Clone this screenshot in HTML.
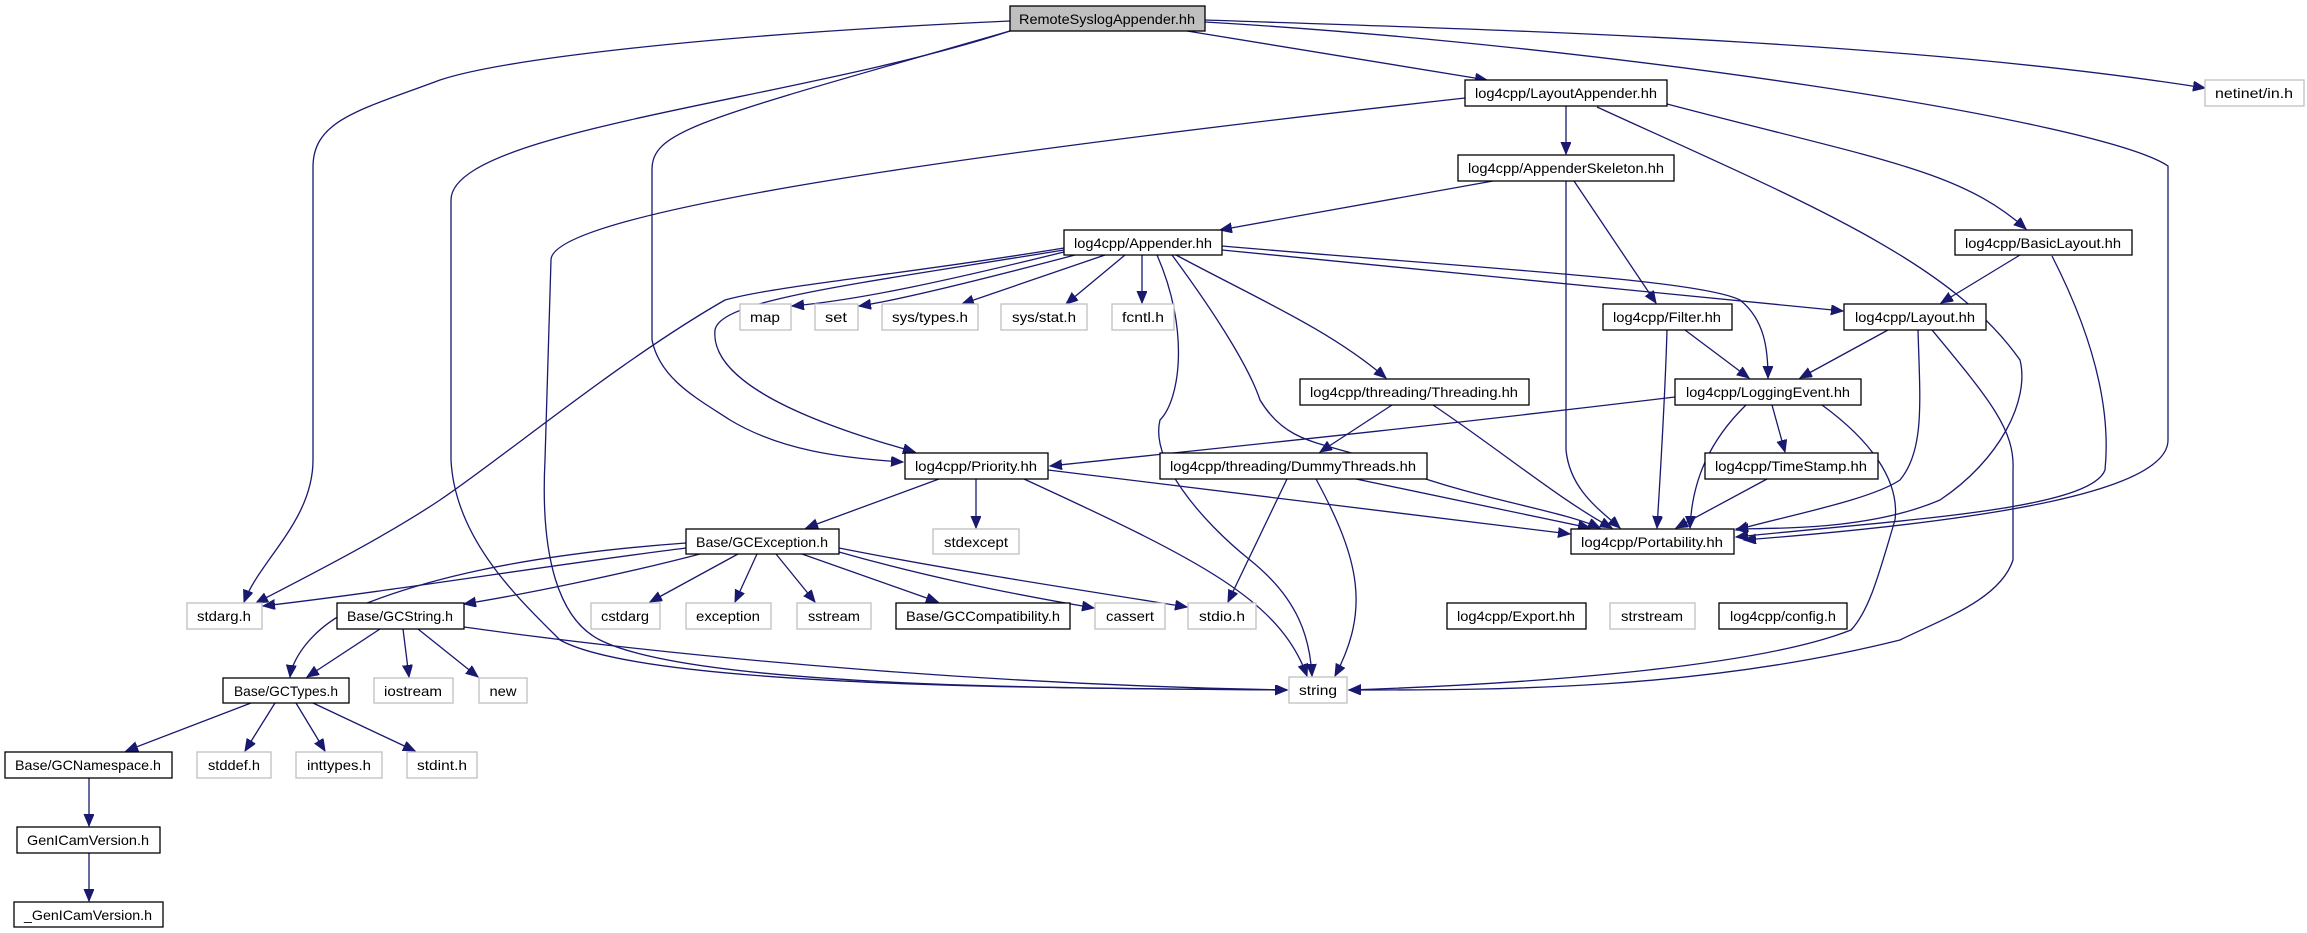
<!DOCTYPE html>
<html><head><meta charset="utf-8"><style>
html,body{margin:0;padding:0;background:#fff;}
svg{display:block;}
text{font-family:"Liberation Sans",sans-serif;font-size:14px;fill:#000;}
.e{fill:none;stroke:#191970;stroke-width:1.3;marker-end:url(#a);}
.nb{fill:#fff;stroke:#000;stroke-width:1.3;}
.ng{fill:#fff;stroke:#bfbfbf;stroke-width:1.3;}
.nr{fill:#bfbfbf;stroke:#000;stroke-width:1.3;}
</style></head><body>
<svg width="2307" height="933" viewBox="0 0 2307 933" xmlns="http://www.w3.org/2000/svg">
<defs><marker id="a" markerUnits="userSpaceOnUse" markerWidth="14" markerHeight="12" refX="12" refY="5" orient="auto"><path d="M0,0 L12,5 L0,10 Z" fill="#191970" stroke="#191970"/></marker></defs>
<g>
<path class="e" d="M1187,31 L1487,80"/>
<path class="e" d="M1205,20 C1500,30 1900,40 2205,88"/>
<path class="e" d="M1205,22 C1600,45 2100,120 2168,166 L2168,440 C2168,490 2000,520 1744,540"/>
<path class="e" d="M1010,21 C700,35 500,60 440,80 C360,110 313,120 313,167 L313,460 C313,520 260,560 244,602"/>
<path class="e" d="M1010,31 C800,100 451,130 451,200 L451,460 C455,540 520,600 560,640 C650,690 1100,688 1287,690"/>
<path class="e" d="M1010,31 C700,120 652,130 652,170 L652,340 C660,380 700,400 730,420 C780,450 840,458 903,462"/>
<path class="e" d="M1566,106 L1566,154"/>
<path class="e" d="M1667,104 C1880,160 1960,170 2026,229"/>
<path class="e" d="M1597,107 C1800,200 1950,260 2020,360 C2030,400 2000,460 1940,500 C1870,530 1780,528 1736,529"/>
<path class="e" d="M1465,98 C1000,150 551,210 551,260 L545,460 C540,560 560,620 600,640 C700,690 1100,688 1287,690"/>
<path class="e" d="M1493,181 L1220,230"/>
<path class="e" d="M1574,181 L1656,303"/>
<path class="e" d="M1566,181 L1566,450 C1570,490 1600,510 1620,528"/>
<path class="e" d="M2020,255 L1941,303"/>
<path class="e" d="M2052,256 C2100,350 2110,420 2105,470 C2090,510 1900,520 1736,537"/>
<path class="e" d="M1064,252 C950,280 860,300 792,306"/>
<path class="e" d="M1075,255 C980,280 900,300 859,306"/>
<path class="e" d="M1105,255 L962,304"/>
<path class="e" d="M1125,255 L1066,304"/>
<path class="e" d="M1142,255 L1142,303"/>
<path class="e" d="M1064,248 C900,275 780,285 725,300 C620,360 500,460 440,500 C380,540 300,580 256,603"/>
<path class="e" d="M1064,250 C850,285 720,300 715,330 C710,380 800,420 915,452"/>
<path class="e" d="M1176,255 C1260,300 1330,330 1386,378"/>
<path class="e" d="M1222,250 L1843,311"/>
<path class="e" d="M1222,246 C1500,270 1700,280 1740,300 C1765,320 1768,350 1768,378"/>
<path class="e" d="M1172,255 C1220,320 1250,370 1260,400 C1290,450 1330,440 1400,470 C1480,500 1560,510 1600,528"/>
<path class="e" d="M1157,255 C1190,330 1180,400 1160,420 C1150,460 1200,520 1250,560 C1300,600 1310,640 1312,676"/>
<path class="e" d="M1685,330 L1749,378"/>
<path class="e" d="M1667,330 C1665,400 1660,480 1657,528"/>
<path class="e" d="M1888,330 L1800,378"/>
<path class="e" d="M1918,330 C1920,400 1925,450 1900,480 C1870,500 1790,515 1736,530"/>
<path class="e" d="M1932,330 C1990,400 2015,430 2013,470 L2013,560 C2000,600 1940,620 1900,640 C1700,690 1500,690 1349,690"/>
<path class="e" d="M1675,397 C1400,430 1200,450 1050,466"/>
<path class="e" d="M1772,405 L1785,452"/>
<path class="e" d="M1746,405 C1710,440 1692,480 1690,528"/>
<path class="e" d="M1822,405 C1870,440 1900,480 1895,520 C1880,570 1870,610 1851,630 C1750,670 1500,685 1349,690"/>
<path class="e" d="M1767,479 L1676,528"/>
<path class="e" d="M1392,405 L1320,452"/>
<path class="e" d="M1433,405 C1500,450 1560,500 1612,528"/>
<path class="e" d="M1356,479 L1590,528"/>
<path class="e" d="M1287,479 L1228,602"/>
<path class="e" d="M1316,479 C1360,560 1370,610 1335,676"/>
<path class="e" d="M939,479 L806,528"/>
<path class="e" d="M976,479 L976,528"/>
<path class="e" d="M1048,470 L1570,534"/>
<path class="e" d="M1024,479 C1200,560 1280,600 1307,676"/>
<path class="e" d="M686,548 C550,565 400,590 263,606"/>
<path class="e" d="M686,543 C520,555 420,580 350,610 C310,630 292,660 290,677"/>
<path class="e" d="M700,554 C620,575 520,595 464,604"/>
<path class="e" d="M738,554 L650,602"/>
<path class="e" d="M757,554 L735,602"/>
<path class="e" d="M776,554 L815,602"/>
<path class="e" d="M802,554 L938,602"/>
<path class="e" d="M839,552 C920,575 1000,592 1094,608"/>
<path class="e" d="M839,548 C950,570 1080,590 1187,607"/>
<path class="e" d="M380,629 L307,677"/>
<path class="e" d="M403,629 L409,677"/>
<path class="e" d="M418,629 L478,677"/>
<path class="e" d="M464,627 C700,660 1000,685 1287,690"/>
<path class="e" d="M251,703 L126,751"/>
<path class="e" d="M275,703 L245,751"/>
<path class="e" d="M296,703 L325,751"/>
<path class="e" d="M313,703 L415,751"/>
<path class="e" d="M89,778 L89,826"/>
<path class="e" d="M89,853 L89,901"/>
</g>
<g>
<rect class="nr" x="1010" y="6" width="195" height="25"/><text x="1107" y="24" text-anchor="middle" textLength="176" lengthAdjust="spacingAndGlyphs">RemoteSyslogAppender.hh</text>
<rect class="nb" x="1465" y="80" width="202" height="26"/><text x="1566" y="98" text-anchor="middle" textLength="182" lengthAdjust="spacingAndGlyphs">log4cpp/LayoutAppender.hh</text>
<rect class="ng" x="2205" y="80" width="99" height="26"/><text x="2254" y="98" text-anchor="middle" textLength="78" lengthAdjust="spacingAndGlyphs">netinet/in.h</text>
<rect class="nb" x="1458" y="155" width="216" height="26"/><text x="1566" y="173" text-anchor="middle" textLength="196" lengthAdjust="spacingAndGlyphs">log4cpp/AppenderSkeleton.hh</text>
<rect class="nb" x="1955" y="230" width="177" height="25"/><text x="2043" y="248" text-anchor="middle" textLength="156" lengthAdjust="spacingAndGlyphs">log4cpp/BasicLayout.hh</text>
<rect class="nb" x="1064" y="230" width="158" height="25"/><text x="1143" y="248" text-anchor="middle" textLength="138" lengthAdjust="spacingAndGlyphs">log4cpp/Appender.hh</text>
<rect class="ng" x="740" y="304" width="51" height="26"/><text x="765" y="322" text-anchor="middle" textLength="30" lengthAdjust="spacingAndGlyphs">map</text>
<rect class="ng" x="815" y="304" width="43" height="26"/><text x="836" y="322" text-anchor="middle" textLength="22" lengthAdjust="spacingAndGlyphs">set</text>
<rect class="ng" x="882" y="304" width="96" height="26"/><text x="930" y="322" text-anchor="middle" textLength="76" lengthAdjust="spacingAndGlyphs">sys/types.h</text>
<rect class="ng" x="1001" y="304" width="86" height="26"/><text x="1044" y="322" text-anchor="middle" textLength="64" lengthAdjust="spacingAndGlyphs">sys/stat.h</text>
<rect class="ng" x="1112" y="304" width="62" height="26"/><text x="1143" y="322" text-anchor="middle" textLength="42" lengthAdjust="spacingAndGlyphs">fcntl.h</text>
<rect class="nb" x="1603" y="304" width="129" height="26"/><text x="1667" y="322" text-anchor="middle" textLength="108" lengthAdjust="spacingAndGlyphs">log4cpp/Filter.hh</text>
<rect class="nb" x="1844" y="304" width="142" height="26"/><text x="1915" y="322" text-anchor="middle" textLength="120" lengthAdjust="spacingAndGlyphs">log4cpp/Layout.hh</text>
<rect class="nb" x="1300" y="379" width="229" height="26"/><text x="1414" y="397" text-anchor="middle" textLength="208" lengthAdjust="spacingAndGlyphs">log4cpp/threading/Threading.hh</text>
<rect class="nb" x="1675" y="379" width="186" height="26"/><text x="1768" y="397" text-anchor="middle" textLength="164" lengthAdjust="spacingAndGlyphs">log4cpp/LoggingEvent.hh</text>
<rect class="nb" x="905" y="453" width="143" height="26"/><text x="976" y="471" text-anchor="middle" textLength="122" lengthAdjust="spacingAndGlyphs">log4cpp/Priority.hh</text>
<rect class="nb" x="1160" y="453" width="267" height="26"/><text x="1293" y="471" text-anchor="middle" textLength="246" lengthAdjust="spacingAndGlyphs">log4cpp/threading/DummyThreads.hh</text>
<rect class="nb" x="1705" y="453" width="173" height="26"/><text x="1791" y="471" text-anchor="middle" textLength="152" lengthAdjust="spacingAndGlyphs">log4cpp/TimeStamp.hh</text>
<rect class="nb" x="1571" y="529" width="163" height="25"/><text x="1652" y="547" text-anchor="middle" textLength="142" lengthAdjust="spacingAndGlyphs">log4cpp/Portability.hh</text>
<rect class="nb" x="686" y="529" width="153" height="25"/><text x="762" y="547" text-anchor="middle" textLength="132" lengthAdjust="spacingAndGlyphs">Base/GCException.h</text>
<rect class="ng" x="933" y="529" width="86" height="25"/><text x="976" y="547" text-anchor="middle" textLength="64" lengthAdjust="spacingAndGlyphs">stdexcept</text>
<rect class="ng" x="187" y="603" width="75" height="26"/><text x="224" y="621" text-anchor="middle" textLength="54" lengthAdjust="spacingAndGlyphs">stdarg.h</text>
<rect class="nb" x="337" y="603" width="127" height="26"/><text x="400" y="621" text-anchor="middle" textLength="106" lengthAdjust="spacingAndGlyphs">Base/GCString.h</text>
<rect class="ng" x="591" y="603" width="69" height="26"/><text x="625" y="621" text-anchor="middle" textLength="48" lengthAdjust="spacingAndGlyphs">cstdarg</text>
<rect class="ng" x="686" y="603" width="85" height="26"/><text x="728" y="621" text-anchor="middle" textLength="64" lengthAdjust="spacingAndGlyphs">exception</text>
<rect class="ng" x="797" y="603" width="74" height="26"/><text x="834" y="621" text-anchor="middle" textLength="52" lengthAdjust="spacingAndGlyphs">sstream</text>
<rect class="nb" x="896" y="603" width="174" height="26"/><text x="983" y="621" text-anchor="middle" textLength="154" lengthAdjust="spacingAndGlyphs">Base/GCCompatibility.h</text>
<rect class="ng" x="1095" y="603" width="70" height="26"/><text x="1130" y="621" text-anchor="middle" textLength="48" lengthAdjust="spacingAndGlyphs">cassert</text>
<rect class="ng" x="1188" y="603" width="68" height="26"/><text x="1222" y="621" text-anchor="middle" textLength="46" lengthAdjust="spacingAndGlyphs">stdio.h</text>
<rect class="nb" x="1447" y="603" width="139" height="26"/><text x="1516" y="621" text-anchor="middle" textLength="118" lengthAdjust="spacingAndGlyphs">log4cpp/Export.hh</text>
<rect class="ng" x="1610" y="603" width="85" height="26"/><text x="1652" y="621" text-anchor="middle" textLength="62" lengthAdjust="spacingAndGlyphs">strstream</text>
<rect class="nb" x="1719" y="603" width="128" height="26"/><text x="1783" y="621" text-anchor="middle" textLength="106" lengthAdjust="spacingAndGlyphs">log4cpp/config.h</text>
<rect class="nb" x="223" y="678" width="126" height="25"/><text x="286" y="696" text-anchor="middle" textLength="104" lengthAdjust="spacingAndGlyphs">Base/GCTypes.h</text>
<rect class="ng" x="374" y="678" width="79" height="25"/><text x="413" y="696" text-anchor="middle" textLength="58" lengthAdjust="spacingAndGlyphs">iostream</text>
<rect class="ng" x="479" y="678" width="48" height="25"/><text x="503" y="696" text-anchor="middle" textLength="27" lengthAdjust="spacingAndGlyphs">new</text>
<rect class="ng" x="1289" y="677" width="58" height="26"/><text x="1318" y="695" text-anchor="middle" textLength="38" lengthAdjust="spacingAndGlyphs">string</text>
<rect class="nb" x="5" y="752" width="167" height="26"/><text x="88" y="770" text-anchor="middle" textLength="146" lengthAdjust="spacingAndGlyphs">Base/GCNamespace.h</text>
<rect class="ng" x="197" y="752" width="74" height="26"/><text x="234" y="770" text-anchor="middle" textLength="52" lengthAdjust="spacingAndGlyphs">stddef.h</text>
<rect class="ng" x="296" y="752" width="86" height="26"/><text x="339" y="770" text-anchor="middle" textLength="64" lengthAdjust="spacingAndGlyphs">inttypes.h</text>
<rect class="ng" x="407" y="752" width="70" height="26"/><text x="442" y="770" text-anchor="middle" textLength="50" lengthAdjust="spacingAndGlyphs">stdint.h</text>
<rect class="nb" x="17" y="827" width="143" height="26"/><text x="88" y="845" text-anchor="middle" textLength="122" lengthAdjust="spacingAndGlyphs">GenICamVersion.h</text>
<rect class="nb" x="14" y="902" width="149" height="25"/><text x="88" y="920" text-anchor="middle" textLength="128" lengthAdjust="spacingAndGlyphs">_GenICamVersion.h</text>
</g>
</svg>
</body></html>
